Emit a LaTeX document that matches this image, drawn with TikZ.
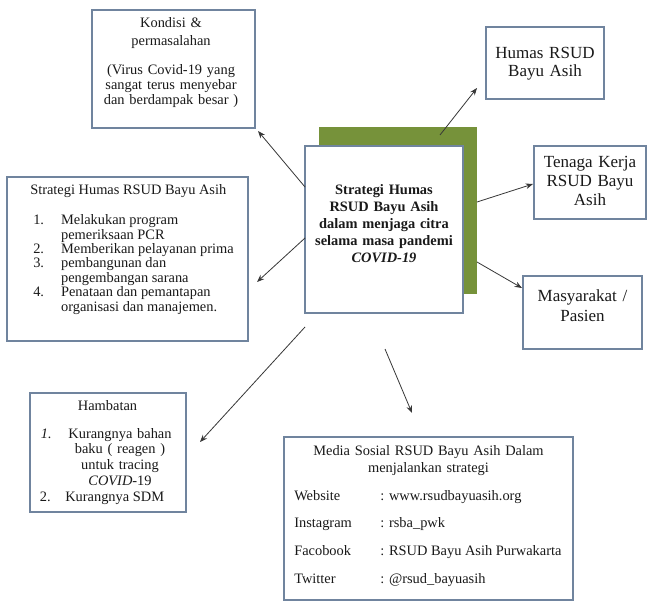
\documentclass[tikz,border=0pt]{standalone}
\usepackage{fontspec}
\setmainfont{Liberation Serif}
\usetikzlibrary{arrows.meta}
\definecolor{bordc}{RGB}{112,132,158}
\definecolor{olivegreen}{RGB}{118,146,58}
\definecolor{txtc}{RGB}{25,25,25}
\definecolor{arrc}{RGB}{55,55,55}
\begin{document}
\begin{tikzpicture}[x=0.75pt,y=-0.75pt,
  box/.style={draw=bordc,line width=0.8pt,fill=white,inner sep=0pt,rectangle},
  txt/.style={inner sep=0pt,text=txtc,font={\fontsize{10.8pt}{11.25pt}\selectfont}},
  big/.style={inner sep=0pt,text=txtc,text width=90pt,align=center,anchor=base},
  conn/.style={draw=arrc,line width=0.6pt,-{Stealth[length=5.5pt,width=4.2pt]}}]
\useasboundingbox (0,0) rectangle (649,602);
\fill[white] (0,0) rectangle (649,602);

% boxes
\node[box,minimum width=122.25pt,minimum height=88.5pt] (kondisi) at (173.5,69) {};
\node[box,minimum width=180.75pt,minimum height=123pt] (strategi) at (127.5,259) {};
\node[fill=olivegreen,inner sep=0pt,minimum width=118.5pt,minimum height=125.25pt] (shadow) at (398,210.5) {};
\node[box,minimum width=118.5pt,minimum height=125.25pt] (pusat) at (384,229.5) {};
\node[box,minimum width=88.5pt,minimum height=54pt] (humas) at (545,63) {};
\node[box,minimum width=84pt,minimum height=54.75pt] (tenaga) at (590,182.5) {};
\node[box,minimum width=89.25pt,minimum height=54.75pt] (masy) at (582.5,312.5) {};
\node[box,minimum width=117pt,minimum height=89.25pt] (hambatan) at (108,452.5) {};
\node[box,minimum width=216.75pt,minimum height=122.25pt] (media) at (428.5,518.5) {};

% Kondisi
\node[txt,text width=150pt,align=center,anchor=base] (kondisiT) at (171,28)
  {Kondisi \&\\[2.25pt]permasalahan\\[10.5pt](Virus Covid-19 yang\\sangat terus menyebar\\dan berdampak besar )};

% Strategi
\node[txt,anchor=base west] (strategiT) at (30,195) {Strategi Humas RSUD Bayu Asih};
\node[txt,anchor=base west,font={\fontsize{10.8pt}{10.75pt}\selectfont}] (strategiL) at (33,225)
  {\begin{tabular}[t]{@{}r@{\hspace{12.75pt}}l@{}}
   1.&Melakukan program\\
     &pemeriksaan PCR\\
   2.&Memberikan pelayanan prima\\
   3.&pembangunan dan\\
     &pengembangan sarana\\
   4.&Penataan dan pemantapan\\
     &organisasi dan manajemen.
   \end{tabular}};

% Center
\node[txt,font={\bfseries\fontsize{10.8pt}{12.75pt}\selectfont},text width=140pt,align=center,anchor=base] (pusatT) at (384,194.5)
  {Strategi Humas\\RSUD Bayu Asih\\dalam menjaga citra\\selama masa pandemi\\\textit{COVID-19}};

% Right boxes
\node[big,font={\fontsize{12.75pt}{13.5pt}\selectfont}] (humasT) at (545,59) {Humas RSUD\\Bayu Asih};
\node[big,font={\fontsize{12.75pt}{14.25pt}\selectfont}] (tenagaT) at (590,167.5) {Tenaga Kerja\\RSUD Bayu\\Asih};
\node[big,font={\fontsize{12.75pt}{15pt}\selectfont}] (masyT) at (582.5,301.5) {Masyarakat /\\Pasien};

% Hambatan
\node[txt,anchor=base] (hambT) at (107.5,410) {Hambatan};
\node[txt,anchor=base east] (hamb1n) at (52,438) {\textit{1.}};
\node[txt,font={\fontsize{10.8pt}{11.75pt}\selectfont},text width=110pt,align=center,anchor=base] (hamb1) at (120,438)
  {Kurangnya bahan\\baku ( reagen )\\untuk tracing\\\textit{COVID}-19};
\node[txt,anchor=base east] (hamb2n) at (51,501) {2.};
\node[txt,anchor=base west] (hamb2) at (65,501) {Kurangnya SDM};

% Media
\node[txt,font={\fontsize{10.8pt}{12.75pt}\selectfont},text width=210pt,align=center,anchor=base] (mediaT) at (428.5,455.5)
  {Media Sosial RSUD Bayu Asih Dalam\\menjalankan strategi};
\node[txt,anchor=base west] (mWl) at (294,500.5) {Website};
\node[txt,anchor=base west] (mWv) at (380,500.5) {: www.rsudbayuasih.org};
\node[txt,anchor=base west] (mIl) at (294,527.5) {Instagram};
\node[txt,anchor=base west] (mIv) at (380,527.5) {: rsba\_pwk};
\node[txt,anchor=base west] (mFl) at (294,555.5) {Facobook};
\node[txt,anchor=base west] (mFv) at (380,555.5) {: RSUD Bayu Asih Purwakarta};
\node[txt,anchor=base west] (mTl) at (294,583.5) {Twitter};
\node[txt,anchor=base west] (mTv) at (380,583.5) {: @rsud\_bayuasih};

% connector ends
\coordinate (s1) at (305,187); \coordinate (e1) at (258,131);
\coordinate (s2) at (305,238); \coordinate (e2) at (257,282);
\coordinate (s3) at (305,327); \coordinate (e3) at (200,442);
\coordinate (s4) at (385,349); \coordinate (e4) at (412,413);
\coordinate (s5) at (440,135); \coordinate (e5) at (477,88);
\coordinate (s6) at (477,202); \coordinate (e6) at (533,184);
\coordinate (s7) at (477,262); \coordinate (e7) at (522,288);

\draw[conn] (s1) -- (e1);
\draw[conn] (s2) -- (e2);
\draw[conn] (s3) -- (e3);
\draw[conn] (s4) -- (e4);
\draw[conn] (s5) -- (e5);
\draw[conn] (s6) -- (e6);
\draw[conn] (s7) -- (e7);
\end{tikzpicture}
\end{document}
